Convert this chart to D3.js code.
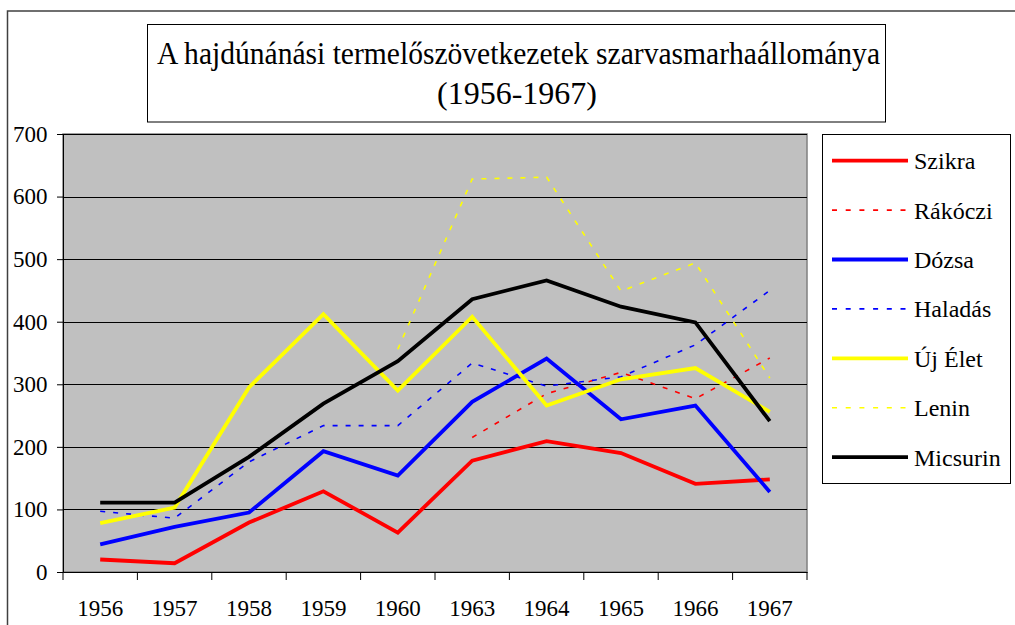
<!DOCTYPE html>
<html>
<head>
<meta charset="utf-8">
<script src="https://cdn.jsdelivr.net/npm/d3@7"></script>
<style>
  body { margin: 0; background: #fff; }
  svg text { font-family: "Liberation Serif", "DejaVu Serif", serif !important; fill: #000; }
</style>
</head>
<body>
<div id="chart"></div>
<script>
// data
const years = ["1956", "1957", "1958", "1959", "1960", "1963", "1964", "1965", "1966", "1967"];
const szikra   = [20, 14, 79, 129, 63, 178, 209, 190, 141, 148];
const rakoczi  = [null, null, null, null, null, 215, 285, 319, 277, 342];
const dozsa    = [44, 72, 95, 193, 154, 272, 341, 244, 266, 128];
const haladas  = [97, 86, 176, 234, 234, 334, 297, 312, 363, 450];
const ujElet   = [78, 103, 295, 412, 290, 408, 266, 308, 326, 256];
const lenin    = [null, null, null, null, 356, 628, 631, 449, 494, 310];
const micsurin = [111, 111, 184, 269, 337, 436, 466, 424, 399, 241];
const yTicks = [0, 100, 200, 300, 400, 500, 600, 700];

const series = [
  { name: "Szikra",   values: szikra,   color: "#ff0000", dashed: false },
  { name: "Rákóczi",  values: rakoczi,  color: "#ff0000", dashed: true },
  { name: "Dózsa",    values: dozsa,    color: "#0000ff", dashed: false },
  { name: "Haladás",  values: haladas,  color: "#0000ff", dashed: true },
  { name: "Új Élet",  values: ujElet,   color: "#ffff00", dashed: false },
  { name: "Lenin",    values: lenin,    color: "#ffff00", dashed: true },
  { name: "Micsurin", values: micsurin, color: "#000000", dashed: false }
];

const width = 1015, height = 625;
const plot = { left: 63, right: 807, top: 134, bottom: 572 };

const svg = d3.select("#chart")
  .append("svg")
  .attr("width", width)
  .attr("height", height);

// outer chart frame (runs off the right and bottom edge)
svg.append("rect")
  .attr("x", 7.5).attr("y", 11)
  .attr("width", 1100).attr("height", 700)
  .attr("fill", "#fff")
  .attr("stroke", "#404040")
  .attr("stroke-width", 1.5);

// title box
svg.append("rect")
  .attr("x", 147.5).attr("y", 24.5)
  .attr("width", 738).attr("height", 97.5)
  .attr("fill", "#fff")
  .attr("stroke", "#000");

const title = svg.append("g").style("font-size", "32px");
title.append("text")
  .attr("x", 157).attr("y", 64)
  .attr("textLength", 723)
  .attr("lengthAdjust", "spacingAndGlyphs")
  .text("A hajdúnánási termelőszövetkezetek szarvasmarhaállománya");
title.append("text")
  .attr("x", 517).attr("y", 104)
  .attr("text-anchor", "middle")
  .text("(1956-1967)");

const x = d3.scaleBand()
  .domain(years)
  .range([plot.left, plot.right]);

const y = d3.scaleLinear()
  .domain([0, 700])
  .range([plot.bottom, plot.top]);

// plot background
svg.append("rect")
  .attr("x", plot.left).attr("y", plot.top)
  .attr("width", plot.right - plot.left)
  .attr("height", plot.bottom - plot.top)
  .attr("fill", "#c0c0c0")
  .attr("stroke", "#808080")
  .attr("stroke-width", 1.5);

// gridlines
svg.append("g")
  .selectAll("line")
  .data(yTicks.filter(d => d > 0))
  .enter()
  .append("line")
  .attr("x1", plot.left).attr("x2", plot.right)
  .attr("y1", d => Math.round(y(d)) + 0.5)
  .attr("y2", d => Math.round(y(d)) + 0.5)
  .attr("stroke", "#000")
  .attr("stroke-width", 1);

// y axis
const yAxis = svg.append("g")
  .attr("transform", `translate(${plot.left},0)`)
  .call(d3.axisLeft(y).tickValues(yTicks).tickSize(6).tickPadding(9.5));
yAxis.attr("font-family", null);
yAxis.selectAll("text").style("font-size", "23px");
yAxis.selectAll("line, path").attr("stroke", "#000");

// x axis: labels at band centres, ticks at band edges
const xAxis = svg.append("g")
  .attr("transform", `translate(0,${plot.bottom})`)
  .call(d3.axisBottom(x).tickSize(0).tickPadding(28));
xAxis.attr("font-family", null);
xAxis.select(".domain").attr("stroke", "#000");
xAxis.selectAll("text").style("font-size", "23px");

const edges = years.map(d => x(d)).concat([plot.right]);
svg.append("g")
  .selectAll("line")
  .data(edges)
  .enter()
  .append("line")
  .attr("x1", d => d).attr("x2", d => d)
  .attr("y1", plot.bottom).attr("y2", plot.bottom + 8)
  .attr("stroke", "#000");

// series lines
const line = d3.line()
  .defined(d => d != null)
  .x((d, i) => x(years[i]) + x.bandwidth() / 2)
  .y(d => y(d));

svg.append("g")
  .selectAll("path")
  .data(series)
  .enter()
  .append("path")
  .attr("d", d => line(d.values))
  .attr("fill", "none")
  .attr("stroke", d => d.color)
  .attr("stroke-width", d => d.dashed ? 1.6 : 3.8)
  .attr("stroke-dasharray", d => d.dashed ? "5,8" : null)
  .attr("stroke-linejoin", "miter");

// legend
const legend = svg.append("g");
legend.append("rect")
  .attr("x", 822.5).attr("y", 134.5)
  .attr("width", 188).attr("height", 349)
  .attr("fill", "#fff")
  .attr("stroke", "#000");

const item = legend.selectAll("g.item")
  .data(series)
  .enter()
  .append("g")
  .attr("class", "item")
  .attr("transform", (d, i) => `translate(0,${160.7 + i * 49.4})`);

item.append("line")
  .attr("x1", 832).attr("x2", 908)
  .attr("stroke", d => d.color)
  .attr("stroke-width", d => d.dashed ? 1.6 : 3.8)
  .attr("stroke-dasharray", d => d.dashed ? "5,8.7" : null);

item.append("text")
  .attr("x", 914)
  .attr("dy", "0.35em")
  .style("font-size", "24px")
  .text(d => d.name);
</script>
</body>
</html>
